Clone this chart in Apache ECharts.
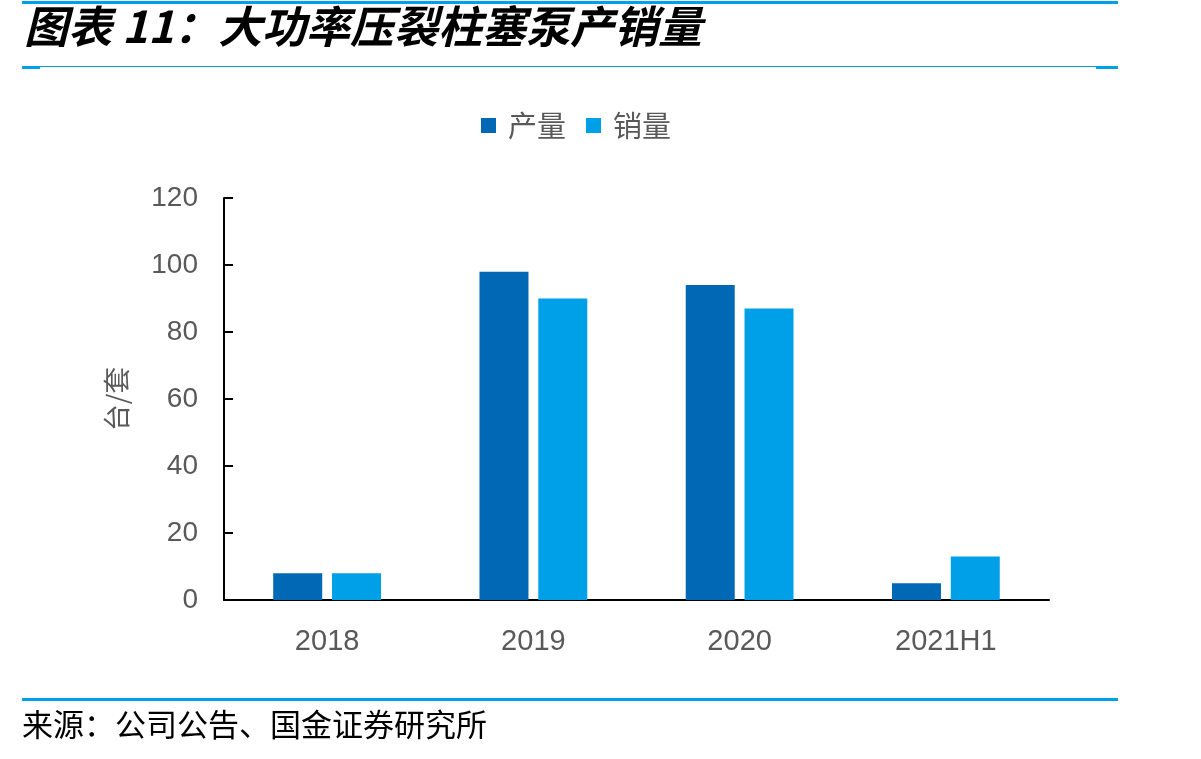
<!DOCTYPE html>
<html>
<head>
<meta charset="utf-8">
<script src="https://cdn.jsdelivr.net/npm/echarts@6/dist/echarts.min.js"></script>
<style>
html, body { margin: 0; padding: 0; background: #fff; }
#container { width: 1201px; height: 759px; }
</style>
</head>
<body>
<div id="container"></div>
<script>
var categories = ['2018', '2019', '2020', '2021H1'];
var output = [8, 98, 94, 5];     // 产量
var sales = [8, 90, 87, 13];     // 销量
var yTicks = [0, 20, 40, 60, 80, 100, 120];

var dom = document.getElementById('container');
var myChart = echarts.init(dom);

var cjk = '"Noto Sans CJK SC", sans-serif';
var blue = '#00A0E9';

var option = {
    backgroundColor: '#fff',
    animation: false,
    textStyle: { fontFamily: 'Arial, "Liberation Sans", ' + cjk },
    graphic: [
        // 顶部蓝线
        { type: 'rect', shape: { x: 22, y: 1, width: 1096, height: 3 }, style: { fill: blue } },
        // 标题
        {
            type: 'text', left: 24, top: 4,
            style: {
                text: '图表 11：大功率压裂柱塞泵产销量',
                font: 'italic bold 44px ' + cjk,
                fill: '#000'
            }
        },
        // 标题下方细线 + 两端粗段
        { type: 'rect', shape: { x: 22, y: 66, width: 1096, height: 1 }, style: { fill: blue } },
        { type: 'rect', shape: { x: 22, y: 66, width: 18, height: 3 }, style: { fill: blue } },
        { type: 'rect', shape: { x: 1096, y: 66, width: 22, height: 3 }, style: { fill: blue } },
        // 底部蓝线
        { type: 'rect', shape: { x: 22, y: 698, width: 1096, height: 3 }, style: { fill: blue } },
        // 来源
        {
            type: 'text', left: 22, top: 709,
            style: {
                text: '来源：公司公告、国金证券研究所',
                font: '31px ' + cjk,
                fill: '#000'
            }
        }
    ],
    legend: {
        top: 106,
        left: 476,
        itemWidth: 15,
        itemHeight: 15,
        itemGap: 20,
        icon: 'rect',
        textStyle: { fontSize: 29, color: '#595959', fontFamily: cjk, padding: [0, 0, 0, 7] },
        data: ['产量', '销量']
    },
    grid: { left: 224, right: 152, top: 198, bottom: 159, containLabel: false },
    xAxis: {
        type: 'category',
        data: categories,
        axisLine: { lineStyle: { color: '#000', width: 2 } },
        axisTick: { inside: true, length: 8, lineStyle: { color: '#000', width: 2 } },
        axisLabel: { fontSize: 29, color: '#595959', margin: 27 }
    },
    yAxis: {
        type: 'value',
        min: 0,
        max: 120,
        interval: 20,
        name: '台/套',
        nameLocation: 'middle',
        nameGap: 94,
        nameRotate: 90,
        nameTextStyle: { fontSize: 27, color: '#595959', fontFamily: cjk },
        axisLine: { show: true, lineStyle: { color: '#000', width: 2 } },
        axisTick: { show: true, inside: true, length: 9, lineStyle: { color: '#000', width: 2 } },
        axisLabel: {
            fontSize: 28, color: '#595959', margin: 26,
            formatter: function (v) { return yTicks.indexOf(v) >= 0 ? String(v) : ''; }
        },
        splitLine: { show: false }
    },
    series: [
        {
            name: '产量',
            type: 'bar',
            data: output,
            barWidth: 49,
            barGap: '20%',
            itemStyle: { color: '#0068B4' }
        },
        {
            name: '销量',
            type: 'bar',
            data: sales,
            barWidth: 49,
            barGap: '20%',
            itemStyle: { color: '#00A0E9' }
        }
    ]
};
myChart.setOption(option, true);
</script>
</body>
</html>
